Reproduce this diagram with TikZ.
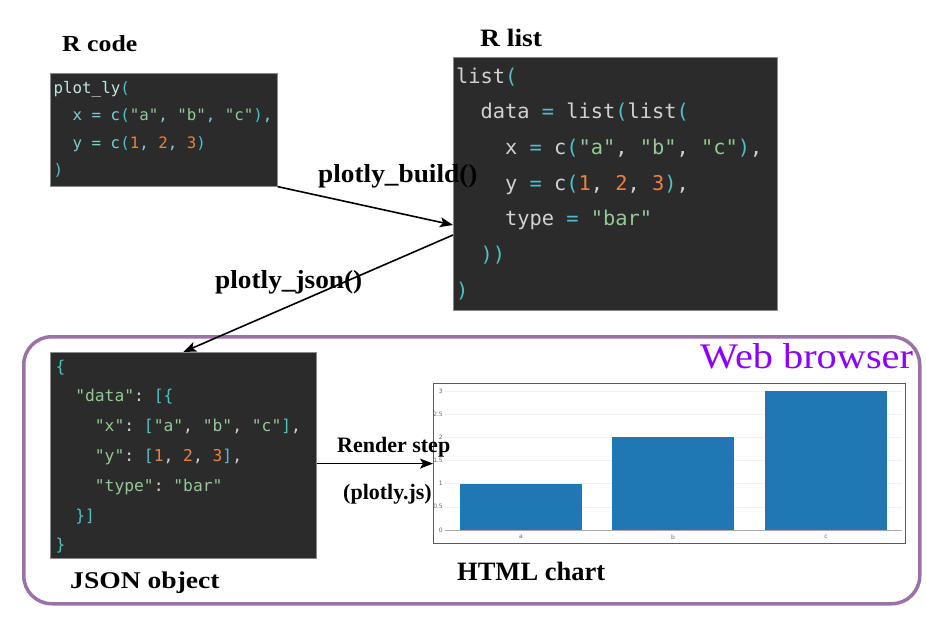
\documentclass[tikz,border=0pt]{standalone}
\usepackage{fontspec}
\setmainfont{Liberation Serif}
\setmonofont{DejaVu Sans Mono}
\newfontfamily\chartfont{DejaVu Sans}
\usetikzlibrary{arrows.meta}
\definecolor{codebg}{HTML}{2B2B2B}
\definecolor{codeedge}{HTML}{8A8A8A}
\definecolor{ctext}{HTML}{D2D2D2}
\definecolor{rcodec}{HTML}{7CCFCF}
\definecolor{rfn}{HTML}{C4E4E4}
\definecolor{cparc}{HTML}{4FC0C8}
\definecolor{cstrc}{HTML}{93C995}
\definecolor{cnumc}{HTML}{E8823F}
\definecolor{browserc}{HTML}{9A72A8}
\definecolor{webtext}{HTML}{8B00FF}
\definecolor{barc}{HTML}{1F77B4}
\definecolor{gridc}{HTML}{F0F0F0}
\definecolor{axisc}{HTML}{AAAAAA}
\definecolor{tickc}{HTML}{666666}
\definecolor{framec}{HTML}{5A5A5A}
\newcommand{\tkP}[1]{\textcolor{cparc}{#1}}
\newcommand{\tkS}[1]{\textcolor{cstrc}{#1}}
\newcommand{\tkN}[1]{\textcolor{cnumc}{#1}}
\newcommand{\tkE}[1]{\textcolor{cparc}{#1}}
\newcommand{\lbl}[2]{\scalebox{#1}[1]{#2}}
\tikzset{
  codebox/.style={draw=codeedge, line width=0.6pt, fill=codebg, inner sep=0pt, anchor=north west},
  rcodeline/.style={anchor=base west, inner sep=0pt, text=rcodec, font=\ttfamily\fontsize{15.8}{18}\selectfont},
  rlistline/.style={anchor=base west, inner sep=0pt, text=ctext, font=\ttfamily\fontsize{20.35}{24}\selectfont},
  jsonline/.style={anchor=base west, inner sep=0pt, text=ctext, font=\ttfamily\fontsize{16.3}{19}\selectfont},
  lab/.style={anchor=base west, inner sep=0pt, text=black},
  arr/.style={draw=black, line width=1.6pt, -{Stealth[length=13pt, width=10pt, inset=3pt]}},
  tick/.style={inner sep=0pt, text=tickc, font=\chartfont\fontsize{6}{7}\selectfont},
  browserbox/.style={draw=browserc, line width=3.5pt, rounded corners=28pt, inner sep=0pt, anchor=north west}
}
\begin{document}
\begin{tikzpicture}[x=1pt, y=-1pt]
\useasboundingbox (0,0) rectangle (926,634);
% web browser frame
\node[browserbox, minimum width=896pt, minimum height=267pt] (browser) at (22,335) {};
% code boxes
\node[codebox, minimum width=227pt, minimum height=113pt] (rcode) at (50,73) {};
\node[codebox, minimum width=324pt, minimum height=253pt] (rlist) at (453,57) {};
\node[codebox, minimum width=266pt, minimum height=206pt] (json) at (50,352) {};
% R code lines
\node[rcodeline] (rc1) at (53.5,93) {\textcolor{rfn}{plot\_ly}\tkP{(}};
\node[rcodeline] (rc2) at (72.5,120.5) {x = c\tkP{(}\tkS{"a"}, \tkS{"b"}, \tkS{"c"}\tkP{)},};
\node[rcodeline] (rc3) at (72.5,148) {y = c\tkP{(}\tkN{1}, \tkN{2}, \tkN{3}\tkP{)}};
\node[rcodeline] (rc4) at (53.5,175.5) {\tkP{)}};
% R list lines
\node[rlistline] (rl1) at (456,83) {list\tkP{(}};
\node[rlistline] (rl2) at (480.5,118.7) {data \tkE{=} list\tkP{(}list\tkP{(}};
\node[rlistline] (rl3) at (505,154.4) {x \tkE{=} c\tkP{(}\tkS{"a"}, \tkS{"b"}, \tkS{"c"}\tkP{)},};
\node[rlistline] (rl4) at (505,190.1) {y \tkE{=} c\tkP{(}\tkN{1}, \tkN{2}, \tkN{3}\tkP{)},};
\node[rlistline] (rl5) at (505,225.8) {type \tkE{=} \tkS{"bar"}};
\node[rlistline] (rl6) at (480.5,261.5) {\tkP{))}};
\node[rlistline] (rl7) at (456,297.2) {\tkP{)}};
% JSON lines
\node[jsonline] (js1) at (55.5,372) {\tkP{\{}};
\node[jsonline] (js2) at (75.1,401.8) {\tkS{"data"}: \tkP{[\{}};
\node[jsonline] (js3) at (94.7,431.6) {\tkS{"x"}: \tkP{[}\tkS{"a"}, \tkS{"b"}, \tkS{"c"}\tkP{]},};
\node[jsonline] (js4) at (94.7,461.4) {\tkS{"y"}: \tkP{[}\tkN{1}, \tkN{2}, \tkN{3}\tkP{]},};
\node[jsonline] (js5) at (94.7,491.2) {\tkS{"type"}: \tkS{"bar"}};
\node[jsonline] (js6) at (75.1,521) {\tkP{\}]}};
\node[jsonline] (js7) at (55.5,550.8) {\tkP{\}}};
% chart
\node[draw=framec, line width=1.2pt, fill=white, inner sep=0pt, anchor=north west,
      minimum width=472pt, minimum height=160pt] (chart) at (433,383) {};
\foreach \k in {1,...,6} {
  \draw[gridc, line width=0.6pt] (445,{530-23.167*\k}) -- (902,{530-23.167*\k});
}
\draw[axisc, line width=0.8pt] (445,530) -- (902,530);
\fill[barc] (460,530) rectangle (582,483.7);
\fill[barc] (612,530) rectangle (734,437.3);
\fill[barc] (765,530) rectangle (887,391);
\node[tick, anchor=east] (t0) at (443,530) {0};
\node[tick, anchor=east] (t1) at (443,506.8) {0.5};
\node[tick, anchor=east] (t2) at (443,483.7) {1};
\node[tick, anchor=east] (t3) at (443,460.5) {1.5};
\node[tick, anchor=east] (t4) at (443,437.3) {2};
\node[tick, anchor=east] (t5) at (443,414.2) {2.5};
\node[tick, anchor=east] (t6) at (443,391) {3};
\node[tick] (ca) at (521,537) {a};
\node[tick] (cb) at (673,537) {b};
\node[tick] (cc) at (826,537) {c};
% arrows
\coordinate (b1) at (453,225);
\coordinate (j0) at (453,235);
\draw[arr] (rcode.south east) -- (b1);
\draw[arr] (j0) -- (json.north);
\draw[arr] (json.east |- chart.west) -- (chart.west);
% labels
\node[lab, font=\bfseries\fontsize{23}{26}\selectfont] (lrcode) at (62,52) {\lbl{1.12}{R code}};
\node[lab, font=\bfseries\fontsize{25}{28}\selectfont] (lrlist) at (480,47) {\lbl{1.1}{R list}};
\node[lab, font=\bfseries\fontsize{26}{29}\selectfont] (lbuild) at (318,182) {\lbl{1.05}{plotly\_build()}};
\node[lab, font=\bfseries\fontsize{26}{29}\selectfont] (ljson) at (215,288) {\lbl{1.05}{plotly\_json()}};
\node[lab, font=\bfseries\fontsize{22}{25}\selectfont] (lrender) at (337,452) {Render step};
\node[lab, font=\bfseries\fontsize{22}{25}\selectfont] (lplotlyjs) at (343,499) {(plotly.js)};
\node[lab, font=\bfseries\fontsize{24}{27}\selectfont] (ljsonobj) at (70,588) {\lbl{1.15}{JSON object}};
\node[lab, font=\bfseries\fontsize{26.5}{29}\selectfont] (lhtml) at (457,580) {HTML chart};
\node[lab, text=webtext, font=\fontsize{36}{40}\selectfont] (lweb) at (700,368) {\lbl{1.12}{Web browser}};
\end{tikzpicture}
\end{document}
